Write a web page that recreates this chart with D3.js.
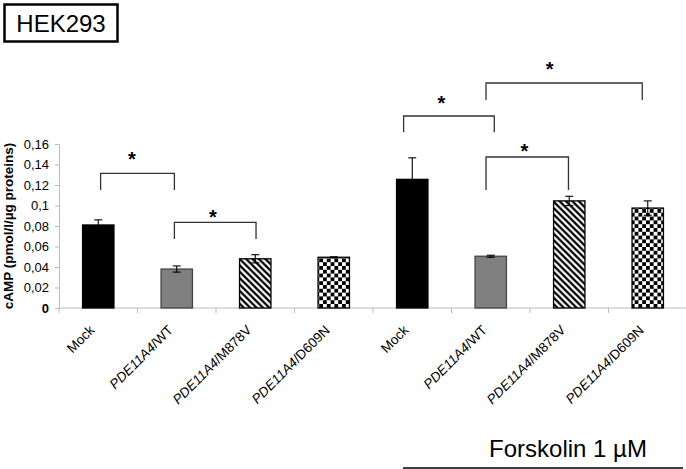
<!DOCTYPE html>
<html><head><meta charset="utf-8">
<script src="https://cdn.jsdelivr.net/npm/d3@7"></script>
<style>body{margin:0;background:#fff}svg{display:block;font-family:"Liberation Sans",Arial,sans-serif}</style>
</head><body><svg id="c" width="686" height="469"></svg>
<script>
const categories = ["Mock","PDE11A4/WT","PDE11A4/M878V","PDE11A4/D609N","Mock","PDE11A4/WT","PDE11A4/M878V","PDE11A4/D609N"];
const values = [0.081,0.038,0.048,0.0495,0.1255,0.0505,0.1045,0.0975];
const errors = [0.005,0.003,0.004,0.0005,0.021,0.001,0.0045,0.007];
const yTicks = [0,0.02,0.04,0.06,0.08,0.1,0.12,0.14,0.16];
const yTickLabels = ["0","0,02","0,04","0,06","0,08","0,1","0,12","0,14","0,16"];
const bracketFrom = [0.03,0.97,3.89,4.94,4.94];
const bracketTo   = [0.97,2.01,5.045,6.93,5.99];
const bracketTop  = [0.1314,0.0836,0.1873,0.2195,0.1473];
const bracketDrop = [0.1151,0.0673,0.1714,0.2029,0.1151];
const starPos = [0.43,1.46,4.37,5.75,5.43];
const starVal = [0.149,0.093,0.204,0.237,0.157];
const title = "HEK293";
const yTitle = "cAMP (pmol/l/µg proteins)";
const groupLabel = "Forskolin 1 µM";

const svg = d3.select("#c");
const x = d3.scaleBand().domain(d3.range(categories.length)).range([59,687]).paddingInner(0).paddingOuter(0);
const y = d3.scaleLinear().domain([0,0.16]).range([308,144]);
const xc = i => x.range()[0] + (i+0.5)*x.step();

const defs = svg.append("defs");
const hatch = defs.append("pattern").attr("id","hatch").attr("patternUnits","userSpaceOnUse").attr("width",6.4).attr("height",6.4);
hatch.append("rect").attr("width",6.4).attr("height",6.4).attr("fill","#fff");
hatch.append("path").attr("d","M-1.6,-1.6L8,8M-1.6,4.8L1.6,8M4.8,-1.6L8,1.6").attr("stroke","#000").attr("stroke-width",2.3);
const check = defs.append("pattern").attr("id","check").attr("patternUnits","userSpaceOnUse").attr("width",7.6).attr("height",7.6);
check.append("rect").attr("width",7.6).attr("height",7.6).attr("fill","#fff");
check.append("rect").attr("width",3.8).attr("height",3.8).attr("fill","#000");
check.append("rect").attr("x",3.8).attr("y",3.8).attr("width",3.8).attr("height",3.8).attr("fill","#000");

const fillFor = i => ["#000","#808080","url(#hatch)","url(#check)"][i%4];
const strokeFor = i => ["#000","#444","#000","#000"][i%4];

// axes
const yAxis = svg.append("g").attr("transform","translate(59,0)")
  .call(d3.axisLeft(y).tickValues(yTicks).tickSize(4).tickFormat((d,i)=>yTickLabels[i]));
yAxis.select(".domain").attr("stroke","#bbb");
yAxis.selectAll(".tick line").attr("stroke","#bbb");
yAxis.selectAll(".tick text").attr("font-size",13).attr("fill","#000").attr("x",-10)
  .attr("font-weight",(d)=>d===0?"bold":"normal").attr("font-family","Liberation Sans, Arial, sans-serif");

const xAxisG = svg.append("g").attr("transform","translate(0,308)");
xAxisG.append("line").attr("x1",59).attr("x2",686).attr("stroke","#bbb");
xAxisG.selectAll("line.t").data(d3.range(categories.length+1)).join("line").attr("class","t")
  .attr("x1",i=>x.range()[0]+i*x.step()).attr("x2",i=>x.range()[0]+i*x.step()).attr("y1",0).attr("y2",5).attr("stroke","#bbb");

// bars
svg.append("g").selectAll("rect").data(values).join("rect")
  .attr("x",(d,i)=>x(i)+x.bandwidth()*0.3).attr("width",x.bandwidth()*0.4)
  .attr("y",d=>y(d)).attr("height",d=>y(0)-y(d))
  .attr("fill",(d,i)=>fillFor(i)).attr("stroke",(d,i)=>strokeFor(i)).attr("stroke-width",1.3);

// error bars
const eg = svg.append("g").attr("stroke","#000").attr("stroke-width",1.1);
values.forEach((v,i)=>{
  const cx = xc(i), e = errors[i];
  eg.append("line").attr("x1",cx).attr("x2",cx).attr("y1",y(v-e)).attr("y2",y(v+e));
  eg.append("line").attr("x1",cx-4).attr("x2",cx+4).attr("y1",y(v+e)).attr("y2",y(v+e));
  eg.append("line").attr("x1",cx-4).attr("x2",cx+4).attr("y1",y(v-e)).attr("y2",y(v-e));
});

// x labels
const lab = svg.append("g").selectAll("text").data(categories).join("text")
  .attr("transform",(d,i)=>`translate(${xc(i)-3},${331}) rotate(-45)`)
  .attr("text-anchor","end").attr("font-size",13.5).attr("fill","#000");
lab.each(function(d){
  const t = d3.select(this);
  if(d.startsWith("PDE11A4")){
    t.append("tspan").attr("font-style","italic").text("PDE11A4");
    t.append("tspan").text(d.slice(7));
  } else t.text(d);
});

// brackets
const bg = svg.append("g").attr("fill","none").attr("stroke","#333").attr("stroke-width",1.3);
bracketFrom.forEach((f,k)=>{
  const x1 = xc(f), x2 = xc(bracketTo[k]);
  bg.append("path").attr("d",`M${x1},${y(bracketDrop[k])}V${y(bracketTop[k])}H${x2}V${y(bracketDrop[k])}`);
  svg.append("text").attr("x",xc(starPos[k])).attr("y",y(starVal[k])+11).attr("text-anchor","middle")
    .attr("font-size",20).attr("font-weight","bold").text("*");
});

// y title
svg.append("text").attr("transform","translate(12.5,226) rotate(-90)").attr("text-anchor","middle")
  .attr("font-size",13.5).attr("font-weight","bold").text(yTitle);

// title box
svg.append("rect").attr("x",4.5).attr("y",4.5).attr("width",113).attr("height",37).attr("fill","#fff").attr("stroke","#000").attr("stroke-width",2.5);
svg.append("text").attr("x",61).attr("y",32).attr("text-anchor","middle").attr("font-size",24).text(title);

// group label
svg.append("text").attr("x",568).attr("y",457).attr("text-anchor","middle").attr("font-size",24).text(groupLabel);
svg.append("line").attr("x1",403).attr("x2",683).attr("y1",468).attr("y2",468).attr("stroke","#000").attr("stroke-width",1.5);
</script></body></html>
